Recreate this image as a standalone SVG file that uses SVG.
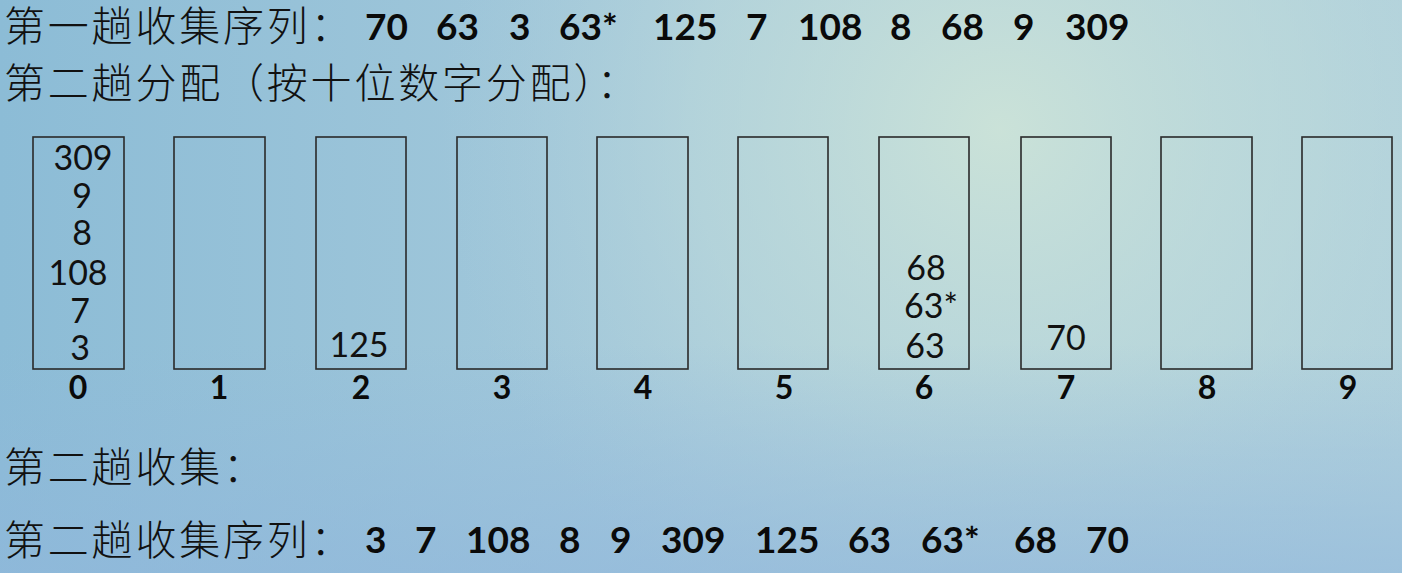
<svg xmlns="http://www.w3.org/2000/svg" width="1402" height="573" viewBox="0 0 1402 573">
<defs>
<linearGradient id="bg" x1="0" y1="0" x2="1" y2="0">
<stop offset="0" stop-color="#8cbcd6"/>
<stop offset="0.5" stop-color="#a6cadb"/>
<stop offset="1" stop-color="#b2d2dc"/>
</linearGradient>
<radialGradient id="glow" cx="1000" cy="130" r="560" gradientUnits="userSpaceOnUse">
<stop offset="0" stop-color="#cce3d8" stop-opacity="0.95"/>
<stop offset="0.55" stop-color="#c0dcda" stop-opacity="0.5"/>
<stop offset="1" stop-color="#b0d0dc" stop-opacity="0"/>
</radialGradient>
<linearGradient id="shade" x1="0" y1="0" x2="0" y2="1">
<stop offset="0.6" stop-color="#8fb6dc" stop-opacity="0"/>
<stop offset="1" stop-color="#8fb6dc" stop-opacity="0.6"/>
</linearGradient>
</defs>
<style>
.cjk{font-family:"Noto Sans CJK SC","Noto Sans",sans-serif;font-size:41px;font-weight:300;letter-spacing:2.8px;fill:#111}
.seq{font-family:Lato,"Liberation Sans",sans-serif;font-size:37px;font-weight:bold;fill:#0a0a0a}
.box{fill:none;stroke:#2a2a2a;stroke-width:1.6}
.val{font-family:Lato,"Liberation Sans",sans-serif;font-size:34px;fill:#111;text-anchor:middle}
.lbl{font-family:Lato,"Liberation Sans",sans-serif;font-size:32px;font-weight:bold;fill:#0a0a0a;text-anchor:middle}
</style>
<rect width="1402" height="573" fill="url(#bg)"/>
<rect width="1402" height="573" fill="url(#glow)"/>
<rect width="1402" height="573" fill="url(#shade)"/>

<g id="line1">
<text class="cjk" x="4" y="41">第一趟收集序列：</text>
<text class="seq" y="40"><tspan x="365">70</tspan><tspan x="436">63</tspan><tspan x="509">3</tspan><tspan x="559">63*</tspan><tspan x="653">125</tspan><tspan x="746">7</tspan><tspan x="798">108</tspan><tspan x="890">8</tspan><tspan x="941">68</tspan><tspan x="1013">9</tspan><tspan x="1065">309</tspan></text>
</g>
<g id="line2">
<text class="cjk" x="4" y="98">第二趟分配（按十位数字分配）：</text>
</g>

<g id="bucket0">
<rect class="box" x="33" y="137" width="91" height="232"/>
<text class="val" x="83" y="170">309</text>
<text class="val" x="82" y="208">9</text>
<text class="val" x="82" y="245">8</text>
<text class="val" x="78" y="285">108</text>
<text class="val" x="80" y="323">7</text>
<text class="val" x="80" y="360">3</text>
<text class="lbl" x="78" y="399">0</text>
</g>
<g id="bucket1">
<rect class="box" x="174" y="137" width="91" height="232"/>
<text class="lbl" x="219" y="399">1</text>
</g>
<g id="bucket2">
<rect class="box" x="316" y="137" width="90" height="232"/>
<text class="val" x="359" y="357">125</text>
<text class="lbl" x="361" y="399">2</text>
</g>
<g id="bucket3">
<rect class="box" x="457" y="137" width="90" height="232"/>
<text class="lbl" x="502" y="399">3</text>
</g>
<g id="bucket4">
<rect class="box" x="597" y="137" width="91" height="232"/>
<text class="lbl" x="643" y="399">4</text>
</g>
<g id="bucket5">
<rect class="box" x="738" y="137" width="90" height="232"/>
<text class="lbl" x="784" y="399">5</text>
</g>
<g id="bucket6">
<rect class="box" x="879" y="137" width="90" height="232"/>
<text class="val" x="926" y="280">68</text>
<text class="val" x="904" y="318" style="text-anchor:start">63*</text>
<text class="val" x="925" y="358">63</text>
<text class="lbl" x="924" y="399">6</text>
</g>
<g id="bucket7">
<rect class="box" x="1021" y="137" width="90" height="232"/>
<text class="val" x="1066" y="350">70</text>
<text class="lbl" x="1066" y="399">7</text>
</g>
<g id="bucket8">
<rect class="box" x="1161" y="137" width="91" height="232"/>
<text class="lbl" x="1207" y="399">8</text>
</g>
<g id="bucket9">
<rect class="box" x="1302" y="137" width="90" height="232"/>
<text class="lbl" x="1348" y="399">9</text>
</g>

<g id="connectors"></g>

<g id="line3">
<text class="cjk" x="4" y="482">第二趟收集：</text>
</g>
<g id="line4">
<text class="cjk" x="4" y="555">第二趟收集序列：</text>
<text class="seq" y="553"><tspan x="365">3</tspan><tspan x="415">7</tspan><tspan x="466">108</tspan><tspan x="559">8</tspan><tspan x="610">9</tspan><tspan x="661">309</tspan><tspan x="755">125</tspan><tspan x="848">63</tspan><tspan x="921">63*</tspan><tspan x="1014">68</tspan><tspan x="1086">70</tspan></text>
</g>
</svg>
